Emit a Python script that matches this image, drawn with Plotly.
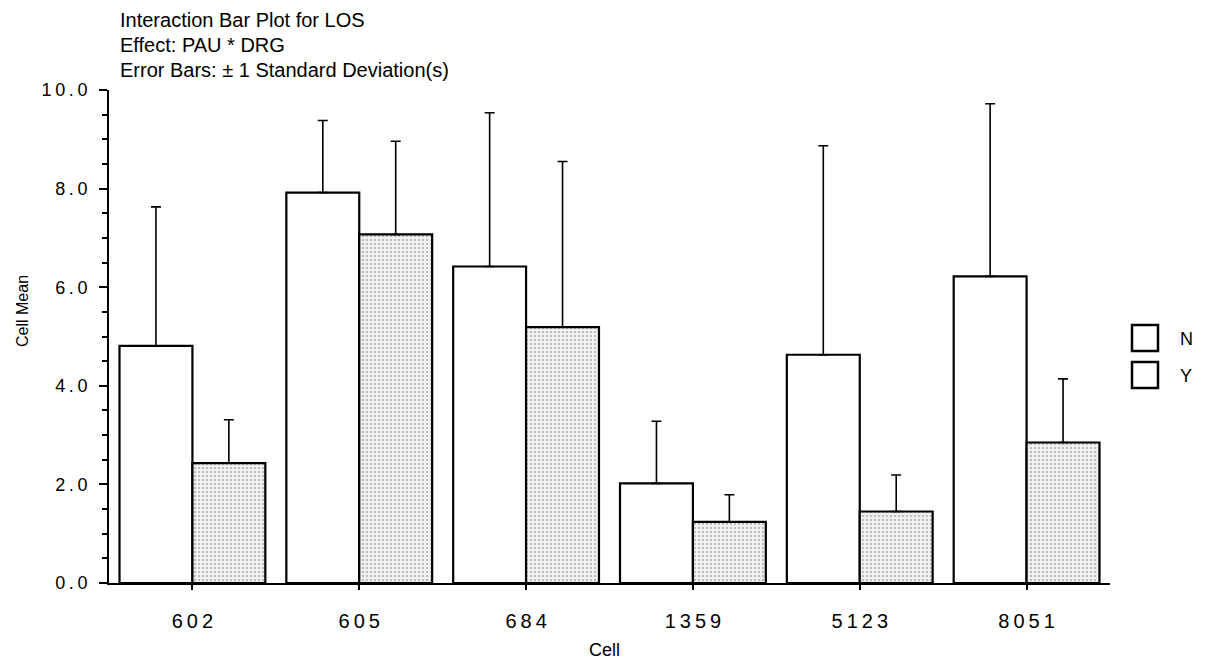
import plotly.graph_objects as go

categories = ["602", "605", "684", "1359", "5123", "8051"]
mean_N = [4.81, 7.92, 6.42, 2.02, 4.63, 6.22]
sd_N = [2.82, 1.46, 3.12, 1.26, 4.24, 3.50]
mean_Y = [2.43, 7.07, 5.19, 1.24, 1.45, 2.85]
sd_Y = [0.88, 1.89, 3.36, 0.55, 0.74, 1.29]
y_ticks = [0, 2, 4, 6, 8, 10]
title_lines = ["Interaction Bar Plot for LOS", "Effect: PAU * DRG",
               "Error Bars: \u00b1 1 Standard Deviation(s)"]

FONT = "Liberation Sans, Arial, sans-serif"
W, H = 1210, 664
OFF = 8  # page body margin
# plot area in reference pixels: x 109..1110, y 90..583
L, T = 109 - OFF, 90 - OFF
R = W - (1110 - OFF)
B = H - (583 - OFF)
PW, PH = W - L - R, H - T - B


def px(x):  # reference pixel x -> paper
    return (x - OFF - L) / PW


def py(y):  # reference pixel y -> paper
    return 1 - (y - OFF - T) / PH


def spaced(s):
    return "\u2009".join(s)


fig = go.Figure()
fig.add_trace(go.Bar(
    name="N", x=categories, y=mean_N,
    marker=dict(color="white", line=dict(color="black", width=2.2)),
    error_y=dict(type="data", symmetric=False, array=sd_N, arrayminus=[0] * len(sd_N),
                 color="black", thickness=1.6, width=5),
))
fig.add_trace(go.Bar(
    name="Y", x=categories, y=mean_Y,
    marker=dict(color="white", line=dict(color="black", width=2.2),
                pattern=dict(shape=".", fillmode="overlay", bgcolor="#f0f0f0",
                             fgcolor="#6e6e6e", size=4, solidity=0.22)),
    error_y=dict(type="data", symmetric=False, array=sd_Y, arrayminus=[0] * len(sd_Y),
                 color="black", thickness=1.6, width=5),
))

fig.update_layout(
    width=W, height=H,
    margin=dict(l=L, r=R, t=T, b=B),
    paper_bgcolor="white", plot_bgcolor="white",
    barmode="group", bargap=0.126, bargroupgap=0,
    showlegend=False,
    font=dict(family=FONT, color="black", size=16),
)
fig.update_xaxes(
    type="category", range=[-0.5, 5.5],
    tickvals=categories, ticktext=[spaced(c) for c in categories],
    showline=True, linecolor="black", linewidth=2, mirror=False,
    ticks="outside", ticklen=5, tickwidth=1.5, tickcolor="black",
    showgrid=False, zeroline=False,
    tickfont=dict(family=FONT, size=20), ticklabelstandoff=14,
)
fig.update_yaxes(
    range=[0, 10], tickvals=y_ticks, ticktext=[spaced(f"{v:.1f}") for v in y_ticks],
    showline=True, linecolor="black", linewidth=2,
    ticks="outside", ticklen=8, tickwidth=2, tickcolor="black",
    minor=dict(dtick=0.5, ticks="outside", ticklen=5, tickwidth=1.5, tickcolor="black", showgrid=False),
    showgrid=False, zeroline=False,
    tickfont=dict(family=FONT, size=18), ticklabelstandoff=8,
)

# Title lines
for i, line in enumerate(title_lines):
    fig.add_annotation(text=line, xref="paper", yref="paper",
                       x=px(118), xanchor="left", y=py(20 + 25 * i), yanchor="middle",
                       showarrow=False, font=dict(family=FONT, size=20, color="black"))

# Axis titles
fig.add_annotation(text="Cell", xref="paper", yref="paper",
                   x=px(587), xanchor="left", y=py(650), yanchor="middle",
                   showarrow=False, font=dict(family=FONT, size=18, color="black"))
fig.add_annotation(text="Cell Mean", xref="paper", yref="paper",
                   x=px(22), xanchor="center", y=py(311), yanchor="middle", textangle=-90,
                   showarrow=False, font=dict(family=FONT, size=16, color="black"))

# Legend (boxes + labels)
legend_items = [("N", 325), ("Y", 362)]
for label, ytop in legend_items:
    fig.add_shape(type="rect", xref="paper", yref="paper",
                  x0=px(1132), x1=px(1158), y0=py(ytop + 26), y1=py(ytop),
                  line=dict(color="black", width=2.5), fillcolor="white")
    fig.add_annotation(text=label, xref="paper", yref="paper",
                       x=px(1186), xanchor="center", y=py(ytop + 14), yanchor="middle",
                       showarrow=False, font=dict(family=FONT, size=18, color="black"))

fig.write_html("out.html")
